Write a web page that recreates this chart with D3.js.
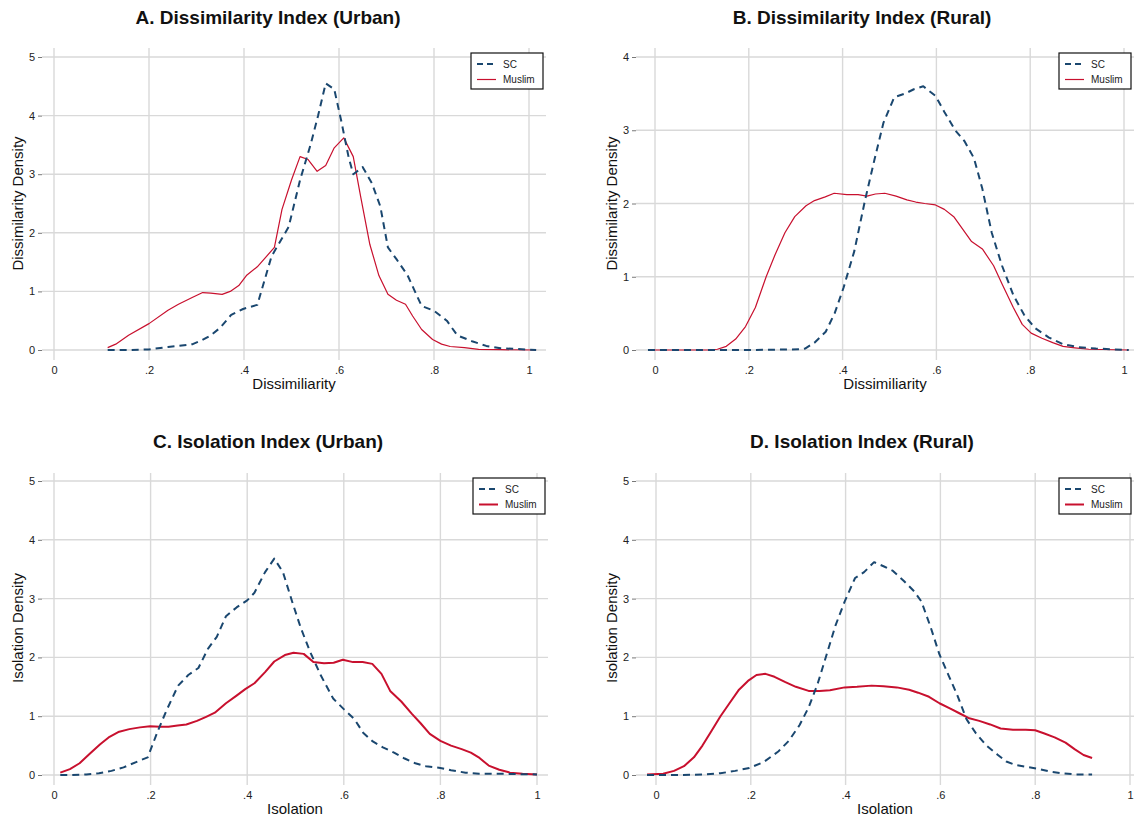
<!DOCTYPE html>
<html>
<head>
<meta charset="utf-8">
<script src="https://cdn.jsdelivr.net/npm/d3@7"></script>
<style>
  body { margin: 0; background: #fff; }
  svg { font-family: "Liberation Sans", Arial, sans-serif; }
</style>
</head>
<body>
<svg id="chart" width="1134" height="821"></svg>
<script>
// density curves, [x, density]
const urbanDisSC = [[.113,0],[.157,0],[.2,.01],[.24,.05],[.262,.07],[.292,.1],[.312,.17],[.33,.25],[.35,.38],[.373,.6],[.398,.7],[.428,.77],[.458,1.6],[.494,2.1],[.518,2.9],[.54,3.5],[.556,4.0],[.572,4.55],[.59,4.45],[.605,3.9],[.62,3.3],[.63,3.0],[.65,3.12],[.669,2.85],[.687,2.45],[.703,1.75],[.721,1.55],[.744,1.28],[.774,.75],[.8,.67],[.827,.5],[.849,.25],[.88,.15],[.91,.07],[.94,.03],[.97,.02],[1.015,0]];
const urbanDisMuslim = [[.113,.04],[.13,.1],[.157,.25],[.2,.45],[.24,.68],[.262,.78],[.292,.9],[.313,.98],[.33,.97],[.354,.95],[.371,1.0],[.389,1.1],[.405,1.27],[.428,1.42],[.464,1.75],[.48,2.4],[.5,2.9],[.518,3.3],[.535,3.25],[.554,3.05],[.572,3.15],[.59,3.45],[.61,3.62],[.63,3.3],[.646,2.6],[.665,1.8],[.684,1.27],[.703,.95],[.721,.85],[.74,.78],[.755,.58],[.774,.35],[.797,.18],[.816,.1],[.834,.06],[.864,.04],[.894,.01],[.94,.005],[1.015,0]];

const ruralDisSC = [[-.015,0],[.1,0],[.2,0],[.31,.01],[.32,.02],[.34,.1],[.364,.25],[.383,.5],[.402,.85],[.425,1.35],[.448,2.05],[.468,2.6],[.487,3.1],[.51,3.45],[.533,3.5],[.552,3.56],[.572,3.6],[.598,3.47],[.617,3.25],[.64,3.0],[.66,2.85],[.68,2.62],[.698,2.2],[.718,1.6],[.74,1.15],[.764,.75],[.787,.48],[.81,.3],[.84,.17],[.87,.08],[.902,.04],[.94,.02],[1.01,0]];
const ruralDisMuslim = [[-.015,0],[.118,0],[.133,.01],[.152,.05],[.172,.15],[.193,.32],[.214,.58],[.237,1.0],[.256,1.3],[.277,1.6],[.298,1.82],[.322,1.97],[.34,2.04],[.363,2.09],[.382,2.14],[.409,2.12],[.433,2.12],[.452,2.1],[.47,2.13],[.49,2.14],[.514,2.1],[.537,2.05],[.556,2.02],[.575,2.0],[.598,1.98],[.617,1.92],[.637,1.82],[.656,1.65],[.675,1.48],[.698,1.38],[.722,1.15],[.74,.9],[.764,.58],[.783,.35],[.802,.23],[.825,.16],[.848,.1],[.87,.05],[.895,.03],[.925,.01],[1.01,0]];

const urbanIsoSC = [[.013,0],[.037,0],[.067,.01],[.093,.03],[.119,.07],[.144,.13],[.17,.22],[.194,.3],[.215,.75],[.233,1.1],[.257,1.52],[.278,1.7],[.299,1.82],[.319,2.15],[.337,2.35],[.356,2.7],[.378,2.85],[.4,2.97],[.415,3.1],[.437,3.45],[.456,3.68],[.474,3.45],[.493,2.95],[.511,2.5],[.53,2.1],[.552,1.7],[.578,1.3],[.6,1.12],[.622,.95],[.64,.72],[.66,.57],[.681,.47],[.704,.38],[.726,.28],[.748,.2],[.77,.15],[.8,.12],[.822,.08],[.852,.04],[.88,.02],[.926,.02],[1.0,.01]];
const urbanIsoMuslim = [[.013,.04],[.033,.1],[.053,.2],[.074,.36],[.095,.52],[.115,.65],[.133,.73],[.156,.78],[.178,.81],[.199,.83],[.219,.82],[.237,.82],[.256,.84],[.274,.86],[.296,.92],[.315,.99],[.333,1.06],[.356,1.22],[.378,1.35],[.396,1.46],[.415,1.56],[.437,1.75],[.456,1.93],[.478,2.04],[.496,2.08],[.517,2.06],[.537,1.92],[.559,1.9],[.579,1.91],[.598,1.96],[.619,1.92],[.639,1.92],[.659,1.89],[.678,1.72],[.696,1.43],[.719,1.25],[.741,1.04],[.759,.88],[.778,.7],[.8,.58],[.822,.5],[.844,.44],[.863,.38],[.881,.29],[.9,.16],[.922,.09],[.944,.04],[.97,.02],[1.0,.01]];

const ruralIsoSC = [[-.019,0],[.045,0],[.106,.01],[.136,.03],[.167,.07],[.197,.12],[.227,.22],[.258,.4],[.28,.58],[.303,.85],[.322,1.15],[.341,1.55],[.36,2.05],[.379,2.55],[.398,2.95],[.42,3.35],[.439,3.45],[.46,3.62],[.48,3.55],[.5,3.47],[.523,3.3],[.545,3.12],[.56,2.95],[.58,2.5],[.598,2.05],[.617,1.7],[.636,1.35],[.655,.95],[.674,.72],[.697,.5],[.72,.35],[.739,.23],[.758,.17],[.78,.14],[.803,.11],[.83,.06],[.856,.03],[.886,.01],[.92,.01]];
const ruralIsoMuslim = [[-.019,.01],[.015,.02],[.038,.07],[.059,.15],[.08,.3],[.098,.5],[.117,.75],[.136,1.0],[.155,1.22],[.174,1.44],[.194,1.6],[.212,1.7],[.231,1.72],[.25,1.67],[.273,1.58],[.295,1.5],[.322,1.43],[.345,1.43],[.367,1.44],[.398,1.49],[.424,1.5],[.455,1.52],[.48,1.51],[.508,1.49],[.534,1.45],[.553,1.4],[.576,1.33],[.598,1.22],[.621,1.13],[.64,1.05],[.659,.97],[.682,.92],[.705,.86],[.727,.79],[.753,.77],[.78,.77],[.8,.76],[.818,.71],[.841,.64],[.864,.55],[.883,.44],[.902,.34],[.92,.29]];

const xTicks = [0, .2, .4, .6, .8, 1];
const seriesNames = ["SC", "Muslim"];

const SC_COLOR = "#1a476f";
const MUSLIM_COLOR = "#c8102e";
const GRID = "#d9d9d9";

const panels = [
  { title: "A. Dissimilarity Index (Urban)", xlab: "Dissimiliarity", ylab: "Dissimilarity Density",
    sc: urbanDisSC, mu: urbanDisMuslim, ymax: 5, xr: [54, 529], yr: [350, 57],
    gx: [42, 546], gy: [48, 360], titleX: 268, titleY: 24, muW: 1.2 },
  { title: "B. Dissimilarity Index (Rural)", xlab: "Dissimiliarity", ylab: "Dissimilarity Density",
    sc: ruralDisSC, mu: ruralDisMuslim, ymax: 4, xr: [655, 1124], yr: [350, 57],
    gx: [636, 1134], gy: [48, 360], titleX: 862, titleY: 24, muW: 1.2 },
  { title: "C. Isolation Index (Urban)", xlab: "Isolation", ylab: "Isolation Density",
    sc: urbanIsoSC, mu: urbanIsoMuslim, ymax: 5, xr: [54, 537], yr: [775, 481],
    gx: [42, 548], gy: [473, 785], titleX: 268, titleY: 448, muW: 2 },
  { title: "D. Isolation Index (Rural)", xlab: "Isolation", ylab: "Isolation Density",
    sc: ruralIsoSC, mu: ruralIsoMuslim, ymax: 5, xr: [656, 1130], yr: [775, 481],
    gx: [636, 1134], gy: [473, 785], titleX: 862, titleY: 448, muW: 2 }
];

const svg = d3.select("#chart");
const fmt = d => d === 0 ? "0" : d === 1 ? "1" : d3.format(".1f")(d).replace(/^0/, "");

panels.forEach(p => {
  const x = d3.scaleLinear().domain([0, 1]).range(p.xr);
  const y = d3.scaleLinear().domain([0, p.ymax]).range(p.yr);
  const g = svg.append("g");

  // grid
  g.append("g").selectAll("line").data(xTicks).join("line")
    .attr("x1", d => x(d)).attr("x2", d => x(d))
    .attr("y1", p.gy[0]).attr("y2", p.gy[1])
    .attr("stroke", GRID).attr("stroke-width", 1.4);
  const yTicks = d3.range(0, p.ymax + 1);
  g.append("g").selectAll("line").data(yTicks).join("line")
    .attr("x1", p.gx[0]).attr("x2", p.gx[1])
    .attr("y1", d => y(d)).attr("y2", d => y(d))
    .attr("stroke", GRID).attr("stroke-width", 1.4);

  // y axis ticks + labels
  const yAxis = d3.axisLeft(y).tickValues(yTicks).tickSize(4).tickPadding(3).tickFormat(d3.format("d"));
  g.append("g").attr("transform", `translate(${p.gx[0]},0)`).call(yAxis)
    .call(a => a.select(".domain").remove())
    .call(a => a.selectAll(".tick line").attr("stroke", "#555").attr("stroke-width", 0.8))
    .call(a => a.selectAll("text").attr("font-size", 11).attr("fill", "#222").attr("font-family", "Liberation Sans, Arial"));

  // x axis labels
  const xAxis = d3.axisBottom(x).tickValues(xTicks).tickSize(0).tickPadding(6).tickFormat(fmt);
  g.append("g").attr("transform", `translate(0,${p.gy[1]})`).call(xAxis)
    .call(a => a.select(".domain").remove())
    .call(a => a.selectAll("text").attr("font-size", 11).attr("fill", "#222").attr("font-family", "Liberation Sans, Arial"));

  // curves
  const line = d3.line().x(d => x(d[0])).y(d => y(d[1]));
  g.append("path").datum(p.mu).attr("d", line)
    .attr("fill", "none").attr("stroke", MUSLIM_COLOR).attr("stroke-width", p.muW)
    .attr("stroke-linejoin", "round");
  g.append("path").datum(p.sc).attr("d", line)
    .attr("fill", "none").attr("stroke", SC_COLOR).attr("stroke-width", 2)
    .attr("stroke-dasharray", "7,5").attr("stroke-linejoin", "round");

  // titles
  svg.append("text").attr("x", p.titleX).attr("y", p.titleY)
    .attr("text-anchor", "middle").attr("font-size", 19).attr("font-weight", "bold")
    .attr("fill", "#111").text(p.title);
  svg.append("text").attr("x", (p.gx[0] + p.gx[1]) / 2).attr("y", p.gy[1] + 29)
    .attr("text-anchor", "middle").attr("font-size", 15).attr("fill", "#111").text(p.xlab);
  const ymid = (p.yr[0] + p.yr[1]) / 2;
  svg.append("text").attr("transform", `translate(${p.gx[0] - 19},${ymid}) rotate(-90)`)
    .attr("text-anchor", "middle").attr("font-size", 15).attr("fill", "#111").text(p.ylab);

  // legend
  const lx = p.gx[1] - 75, ly = p.gy[0] + 5;
  const lg = svg.append("g").attr("transform", `translate(${lx},${ly})`);
  lg.append("rect").attr("width", 72).attr("height", 36)
    .attr("fill", "#fff").attr("stroke", "#111").attr("stroke-width", 1.2);
  seriesNames.forEach((name, i) => {
    const yy = 11 + i * 15.5;
    lg.append("line").attr("x1", 6).attr("x2", 25).attr("y1", yy).attr("y2", yy)
      .attr("stroke", i === 0 ? SC_COLOR : MUSLIM_COLOR)
      .attr("stroke-width", i === 0 ? 2 : p.muW)
      .attr("stroke-dasharray", i === 0 ? "6,4" : null);
    lg.append("text").attr("x", 32).attr("y", yy + 3.5).attr("font-size", 10)
      .attr("fill", "#222").text(name);
  });
});
</script>
</body>
</html>
